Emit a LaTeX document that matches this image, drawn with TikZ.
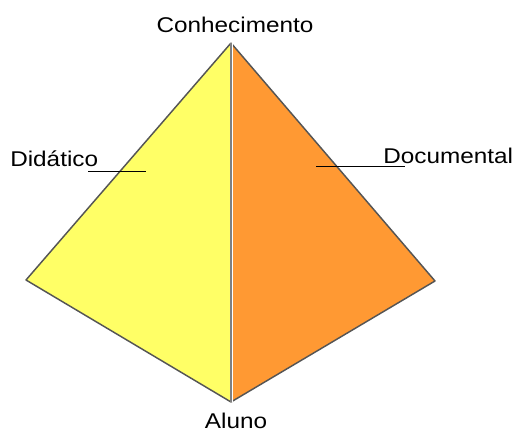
\documentclass[tikz,border=0pt]{standalone}
\usepackage{fontspec}
\setmainfont{Liberation Sans}
\definecolor{faceY}{HTML}{FFFF66}
\definecolor{faceO}{HTML}{FF9933}
\definecolor{edgeG}{HTML}{555555}
\begin{document}
\begin{tikzpicture}[x=0.75pt,y=-0.75pt,
  lbl/.style={inner sep=0pt,font=\fontsize{16}{18}\selectfont},
  edge/.style={draw=edgeG,line width=1.1pt,line join=round}]
\useasboundingbox (0,0) rectangle (514,431);
\coordinate (top) at (231,43);
\coordinate (lft) at (26,280);
\coordinate (rgt) at (435,281);
\coordinate (bot) at (231,402);
\fill[faceY] (top) -- (lft) -- (bot) -- cycle;
\fill[faceO] (top) -- (rgt) -- (bot) -- cycle;
\draw[edge] (top) -- (lft) -- (bot);
\draw[edge] (top) -- (rgt) -- (bot);
\draw[draw=gray,line width=1.6pt] (top) -- (bot);
\draw[draw=white,line width=0.4pt] ([xshift=1.1pt]top) -- ([xshift=1.1pt]bot);
\node[lbl,anchor=base] (con) at (235,33) {\scalebox{1.14}[1]{Conhecimento}};
\node[lbl,anchor=base west] (did) at (10,167) {\scalebox{1.14}[1]{Didático}};
\node[lbl,anchor=base west] (doc) at (383,164) {\scalebox{1.14}[1]{Documental}};
\node[lbl,anchor=base] (alu) at (236,428) {\scalebox{1.14}[1]{Aluno}};
\coordinate (d1) at (88,171);
\coordinate (d2) at (146,171);
\coordinate (o1) at (316,166);
\coordinate (o2) at (405,166);
\draw[black,line width=0.6pt] (d1) -- (d2);
\draw[black,line width=0.6pt] (o1) -- (o2);
\end{tikzpicture}
\end{document}
